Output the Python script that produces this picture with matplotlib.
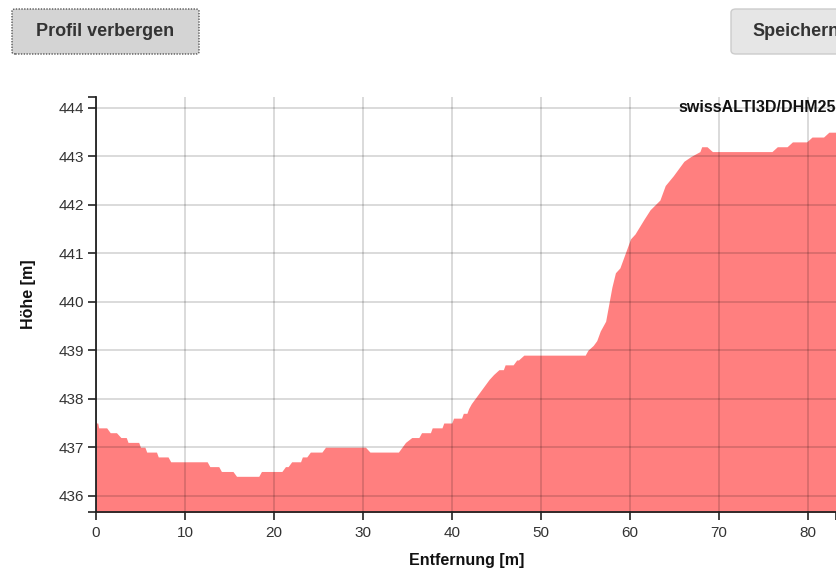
import matplotlib.pyplot as plt
from matplotlib.patches import FancyBboxPatch

plt.rcParams['font.family'] = ['Liberation Sans', 'DejaVu Sans']

# profile: distance [m] / elevation [m]
dist = [0.0, 0.2, 0.3, 1.2, 1.6, 2.3, 2.8, 3.4, 3.6, 4.8, 5.0, 5.5, 5.7, 6.8, 7.0,
        8.1, 8.4, 12.5, 12.8, 13.8, 14.1, 15.4, 15.8, 18.3, 18.6, 20.9, 21.3, 21.6,
        22.0, 23.0, 23.2, 23.7, 24.1, 25.4, 25.8, 30.3, 30.8, 34.0, 34.4, 34.8, 35.5,
        36.3, 36.6, 37.6, 37.8, 38.9, 39.1, 40.0, 40.2, 41.1, 41.3, 41.7, 41.9, 42.2,
        42.6, 43.0, 43.4, 43.8, 44.2, 44.7, 45.3, 45.8, 46.0, 46.9, 47.3, 47.5, 48.1,
        55.0, 55.3, 55.9, 56.3, 56.7, 57.3, 57.6, 58.0, 58.4, 58.9, 59.5, 60.1, 60.6,
        61.6, 62.3, 63.4, 64.0, 64.9, 66.1, 66.9, 67.9, 68.1, 68.7, 69.3, 76.0, 76.6,
        77.7, 78.3, 79.9, 80.5, 81.8, 82.4, 83.3]
elev = [437.5, 437.5, 437.4, 437.4, 437.3, 437.3, 437.2, 437.2, 437.1, 437.1, 437.0,
        437.0, 436.9, 436.9, 436.8, 436.8, 436.7, 436.7, 436.6, 436.6, 436.5, 436.5,
        436.4, 436.4, 436.5, 436.5, 436.6, 436.6, 436.7, 436.7, 436.8, 436.8, 436.9,
        436.9, 437.0, 437.0, 436.9, 436.9, 437.0, 437.1, 437.2, 437.2, 437.3, 437.3,
        437.4, 437.4, 437.5, 437.5, 437.6, 437.6, 437.7, 437.7, 437.8, 437.9, 438.0,
        438.1, 438.2, 438.3, 438.4, 438.5, 438.6, 438.6, 438.7, 438.7, 438.8, 438.8,
        438.9, 438.9, 439.0, 439.1, 439.2, 439.4, 439.6, 439.9, 440.3, 440.6, 440.7,
        441.0, 441.3, 441.4, 441.7, 441.9, 442.1, 442.4, 442.6, 442.9, 443.0, 443.1,
        443.2, 443.2, 443.1, 443.1, 443.2, 443.2, 443.3, 443.3, 443.4, 443.4, 443.5,
        443.5]

x_ticks = [0, 10, 20, 30, 40, 50, 60, 70, 80]
y_ticks = [436, 437, 438, 439, 440, 441, 442, 443, 444]
x_lim = (0, 83.2)
y_lim = (435.67, 444.22)

W, H = 836, 579
fig = plt.figure(figsize=(W / 100, H / 100), dpi=100)
ax = fig.add_axes([96 / W, 1 - 511.7 / H, 1 - 96 / W, (511.7 - 97.3) / H])

ax.fill_between(dist, y_lim[0] - 1, elev, color='#ff7f7f', lw=0, zorder=1)
ax.set_xlim(*x_lim)
ax.set_ylim(*y_lim)
ax.set_xticks(x_ticks)
ax.set_yticks(y_ticks)
# outer ticks at domain ends, like the original
ax.set_xticks([x_lim[1]], minor=True)
ax.set_yticks(list(y_lim), minor=True)
ax.grid(True, which='major', color='black', alpha=0.17, lw=1.2, zorder=2)
ax.set_axisbelow(False)

for s in ['top', 'right']:
    ax.spines[s].set_visible(False)
for s in ['left', 'bottom']:
    ax.spines[s].set_color('#222222')
    ax.spines[s].set_linewidth(1.3)

ax.tick_params(which='both', length=5.5, width=1.2, color='#222222',
               labelsize=11, labelcolor='#333333')
ax.tick_params(axis='x', pad=5)
ax.tick_params(axis='y', pad=3)

ax.text(1.0, 0.975, 'swissALTI3D/DHM25', transform=ax.transAxes, ha='right',
        va='center', fontsize=11.5, fontweight='bold', color='#111111')

fig.text(467 / W, 1 - 560 / H, 'Entfernung [m]', ha='center', va='center',
         fontsize=11.5, fontweight='bold', color='#111111')
fig.text(28 / W, 1 - 294 / H, 'Höhe [m]', ha='center', va='center', rotation=90,
         fontsize=11.5, fontweight='bold', color='#111111')

# buttons above the chart
b1 = FancyBboxPatch((12 / W, 1 - 54 / H), 187 / W, 45 / H, transform=fig.transFigure,
                    boxstyle='round,pad=0,rounding_size=0.004', fc='#d4d4d4',
                    ec='#555555', lw=1.0, ls=(0, (1, 1)))
fig.patches.append(b1)
fig.text(105 / W, 1 - 31.5 / H, 'Profil verbergen', ha='center', va='center',
         fontsize=13, fontweight='bold', color='#333333')

b2 = FancyBboxPatch((731 / W, 1 - 54 / H), 120 / W, 45 / H, transform=fig.transFigure,
                    boxstyle='round,pad=0,rounding_size=0.006', fc='#e6e6e6',
                    ec='#cccccc', lw=1.0)
fig.patches.append(b2)
fig.text(752 / W, 1 - 31.5 / H, 'Speichern', ha='left', va='center',
         fontsize=13, fontweight='bold', color='#333333')

fig.savefig('out.png', dpi=100)
